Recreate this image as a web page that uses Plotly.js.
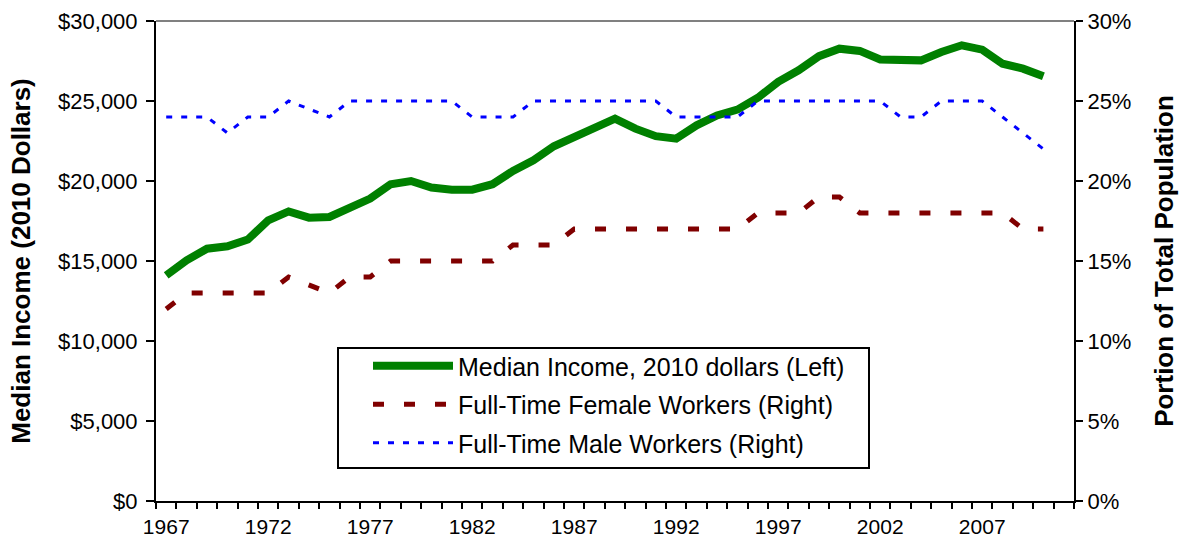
<!DOCTYPE html>
<html>
<head>
<meta charset="utf-8">
<script src="https://cdn.plot.ly/plotly-3.0.1.min.js"></script>
<style>
  html, body { margin: 0; padding: 0; background: #fff; }
  #chart { width: 1186px; height: 546px; }
</style>
</head>
<body>
<div id="chart"></div>
<script>
// Data
const years = [
  1967, 1968, 1969, 1970, 1971, 1972, 1973, 1974, 1975, 1976, 1977,
  1978, 1979, 1980, 1981, 1982, 1983, 1984, 1985, 1986, 1987, 1988,
  1989, 1990, 1991, 1992, 1993, 1994, 1995, 1996, 1997, 1998, 1999,
  2000, 2001, 2002, 2003, 2004, 2005, 2006, 2007, 2008, 2009, 2010
];

// Median income, 2010 dollars (left axis)
const medianIncome = [
  14100, 15040, 15770, 15920, 16340, 17540, 18100, 17710, 17750, 18340, 18900,
  19800, 20000, 19590, 19460, 19460, 19800, 20630, 21300, 22170, 22750, 23270,
  23900, 23270, 22800, 22650, 23480, 24100, 24460, 25200, 26200, 26920, 27800,
  28270, 28130, 27600, 27590, 27540, 28060, 28480, 28210, 27330, 27020, 26540
];

// Full-time female workers, % of total population (right axis)
const femaleWorkers = [
  12, 13, 13, 13, 13, 13, 14, 13.5, 13, 14, 14,
  15, 15, 15, 15, 15, 15, 16, 16, 16, 17, 17,
  17, 17, 17, 17, 17, 17, 17, 18, 18, 18, 19,
  19, 18, 18, 18, 18, 18, 18, 18, 18, 17, 17
];

// Full-time male workers, % of total population (right axis)
const maleWorkers = [
  24, 24, 24, 23, 24, 24, 25, 24.5, 24, 25, 25,
  25, 25, 25, 25, 24, 24, 24, 25, 25, 25, 25,
  25, 25, 25, 24, 24, 24, 24, 25, 25, 25, 25,
  25, 25, 25, 24, 24, 25, 25, 25, 24, 23, 22
];

const yearLabels = [1967, 1972, 1977, 1982, 1987, 1992, 1997, 2002, 2007];
const incomeTicks = [0, 5000, 10000, 15000, 20000, 25000, 30000];
const incomeLabels = ['$0', '$5,000', '$10,000', '$15,000', '$20,000', '$25,000', '$30,000'];
const pctTicks = [0, 5, 10, 15, 20, 25, 30];
const pctLabels = ['0%', '5%', '10%', '15%', '20%', '25%', '30%'];

const FONT = 'Liberation Sans, Arial, sans-serif';

const male = {
  x: years, y: maleWorkers, yaxis: 'y2',
  name: 'Full-Time Male Workers (Right)',
  type: 'scatter', mode: 'lines',
  line: { color: '#0000ff', width: 3, dash: '6px,9px' },
  legendgroup: 'c', legendrank: 3
};

const female = {
  x: years, y: femaleWorkers, yaxis: 'y2',
  name: 'Full-Time Female Workers (Right)',
  type: 'scatter', mode: 'lines',
  line: { color: '#800000', width: 5, dash: '11px,20px' },
  legendgroup: 'b', legendrank: 2
};

const income = {
  x: years, y: medianIncome,
  name: 'Median Income, 2010 dollars (Left)',
  type: 'scatter', mode: 'lines',
  line: { color: '#008000', width: 8 },
  legendgroup: 'a', legendrank: 1
};

// plot area: x 156..1074, y 21..501 (px)
const px = (v) => (v - 156) / 918;
const py = (v) => (501 - v) / 480;

const layout = {
  width: 1186,
  height: 546,
  margin: { l: 156, r: 112, t: 21, b: 45 },
  paper_bgcolor: '#ffffff',
  plot_bgcolor: '#ffffff',
  font: { family: FONT, color: '#000', size: 21 },
  showlegend: true,
  legend: {
    x: px(368), y: py(343), xanchor: 'left', yanchor: 'top',
    borderwidth: 0, bgcolor: 'rgba(0,0,0,0)',
    font: { family: FONT, size: 25, color: '#000' },
    traceorder: 'grouped', tracegroupgap: 3,
    itemwidth: 80
  },
  xaxis: {
    range: [1966.5, 2011.5],
    tickvals: yearLabels,
    ticktext: yearLabels.map(String),
    ticks: 'outside', ticklen: 6, tickcolor: 'rgba(0,0,0,0)',
    minor: { tick0: 1966.5, dtick: 1, ticks: 'outside', ticklen: 6, tickwidth: 2, tickcolor: '#000' },
    showline: true, linecolor: '#000', linewidth: 2,
    showgrid: false, zeroline: false,
    tickfont: { size: 21 }
  },
  yaxis: {
    range: [0, 30000],
    tickvals: incomeTicks, ticktext: incomeLabels,
    ticks: 'outside', ticklen: 8, tickwidth: 2, tickcolor: '#000',
    ticklabelstandoff: 4,
    showline: true, linecolor: '#000', linewidth: 2,
    showgrid: false, zeroline: false,
    tickfont: { size: 22 },
    title: { text: '<b>Median Income (2010 Dollars)</b>', font: { size: 26 }, standoff: 20 }
  },
  yaxis2: {
    range: [0, 30],
    overlaying: 'y', side: 'right',
    tickvals: pctTicks, ticktext: pctLabels,
    ticks: 'outside', ticklen: 7, tickwidth: 2, tickcolor: '#000',
    showline: true, linecolor: '#000', linewidth: 2,
    showgrid: false, zeroline: false,
    tickfont: { size: 22 },
    title: { text: '<b>Portion of Total Population</b>', font: { size: 26 }, standoff: 24 }
  },
  yaxis3: {
    range: [0, 30],
    overlaying: 'y', side: 'right',
    tickvals: pctTicks,
    ticks: 'inside', ticklen: 7, tickwidth: 2, tickcolor: '#000',
    showticklabels: false, showline: false,
    showgrid: false, zeroline: false
  },
  shapes: [
    { type: 'line', xref: 'paper', yref: 'paper', x0: 0, x1: 1, y0: 1, y1: 1,
      line: { color: '#808080', width: 2 } },
    // legend frame
    { type: 'rect', xref: 'paper', yref: 'paper', layer: 'above',
      x0: px(338), x1: px(869), y0: py(348), y1: py(468),
      line: { color: '#000', width: 2 }, fillcolor: '#fff' }
  ]
};

const config = { responsive: false, displayModeBar: false, staticPlot: true };

Plotly.newPlot('chart', [male, female, income], layout, config);
</script>
</body>
</html>
